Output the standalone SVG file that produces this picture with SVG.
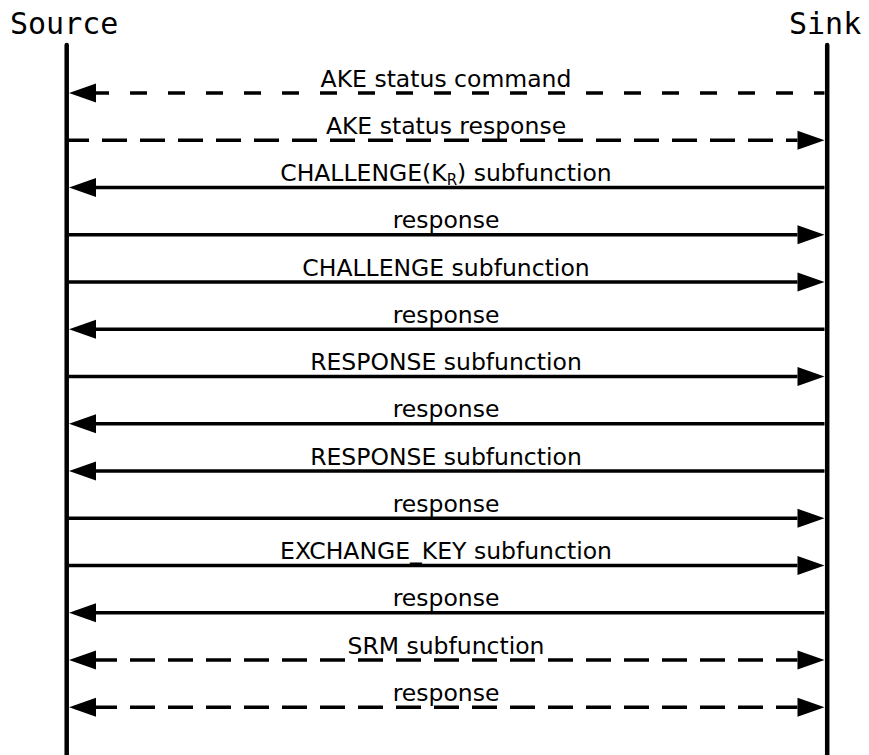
<svg xmlns="http://www.w3.org/2000/svg" width="869" height="755" viewBox="0 0 869 755">
  <style>
    .actor { font-family: "DejaVu Sans Mono", "Liberation Mono", monospace; font-size: 30px; fill: #000; }
    .label { font-family: "DejaVu Sans", Verdana, sans-serif; font-size: 23.5px; fill: #000; text-anchor: middle; }
    .life { stroke: #000; stroke-width: 4.5; stroke-linecap: round; fill: none; }
    .msg { stroke: #000; stroke-width: 3.5; fill: none; }
    .fwd { marker-end: url(#head); }
    .back { marker-start: url(#head); }
    .both { marker-start: url(#head); marker-end: url(#head); }
    .dash-a { stroke-dasharray: 17 21; stroke-dashoffset: 4; }
    .dash-b { stroke-dasharray: 25 13; }
  </style>
  <defs>
    <marker id="head" markerUnits="userSpaceOnUse" markerWidth="28" markerHeight="20" refX="0" refY="9.5" orient="auto-start-reverse" viewBox="0 0 28 20" overflow="visible">
      <path d="M0,0 L27,9.5 L0,19 Z" fill="#000"/>
    </marker>
  </defs>

  <rect width="869" height="755" fill="#fff"/>

  <!-- participants -->
  <g id="source">
    <text class="actor" x="10" y="34">Source</text>
    <line class="life" x1="66.7" y1="45" x2="66.7" y2="760"/>
  </g>
  <g id="sink">
    <text class="actor" x="789" y="34">Sink</text>
    <line class="life" x1="827.2" y1="45" x2="827.2" y2="760"/>
  </g>

  <!-- messages -->
  <g id="connectors">
    <line class="msg back dash-a" x1="96" y1="93" x2="824.5" y2="93"/>
    <line class="msg fwd dash-b" style="stroke-dashoffset:5" x1="69" y1="140.25" x2="797.5" y2="140.25"/>
    <line class="msg back" x1="96" y1="187.5" x2="824.5" y2="187.5"/>
    <line class="msg fwd" x1="69" y1="234.75" x2="797.5" y2="234.75"/>
    <line class="msg fwd" x1="69" y1="282" x2="797.5" y2="282"/>
    <line class="msg back" x1="96" y1="329.25" x2="824.5" y2="329.25"/>
    <line class="msg fwd" x1="69" y1="376.5" x2="797.5" y2="376.5"/>
    <line class="msg back" x1="96" y1="423.75" x2="824.5" y2="423.75"/>
    <line class="msg back" x1="96" y1="471" x2="824.5" y2="471"/>
    <line class="msg fwd" x1="69" y1="518.25" x2="797.5" y2="518.25"/>
    <line class="msg fwd" x1="69" y1="565.5" x2="797.5" y2="565.5"/>
    <line class="msg back" x1="96" y1="612.75" x2="824.5" y2="612.75"/>
    <line class="msg both dash-b" style="stroke-dashoffset:4" x1="96" y1="660" x2="797.5" y2="660"/>
    <line class="msg both dash-b" style="stroke-dashoffset:4" x1="96" y1="707.25" x2="797.5" y2="707.25"/>
  </g>

  <!-- message labels -->
  <g id="labels">
    <text class="label" x="446" y="86.5">AKE status command</text>
    <text class="label" x="446" y="133.75">AKE status response</text>
    <text class="label" x="446" y="181">CHALLENGE(K<tspan font-size="15" dy="4">R</tspan><tspan dy="-4">) subfunction</tspan></text>
    <text class="label" x="446" y="228.25">response</text>
    <text class="label" x="446" y="275.5">CHALLENGE subfunction</text>
    <text class="label" x="446" y="322.75">response</text>
    <text class="label" x="446" y="370">RESPONSE subfunction</text>
    <text class="label" x="446" y="417.25">response</text>
    <text class="label" x="446" y="464.5">RESPONSE subfunction</text>
    <text class="label" x="446" y="511.75">response</text>
    <text class="label" x="446" y="559">EXCHANGE_KEY subfunction</text>
    <text class="label" x="446" y="606.25">response</text>
    <text class="label" x="446" y="653.5">SRM subfunction</text>
    <text class="label" x="446" y="700.75">response</text>
  </g>
</svg>
